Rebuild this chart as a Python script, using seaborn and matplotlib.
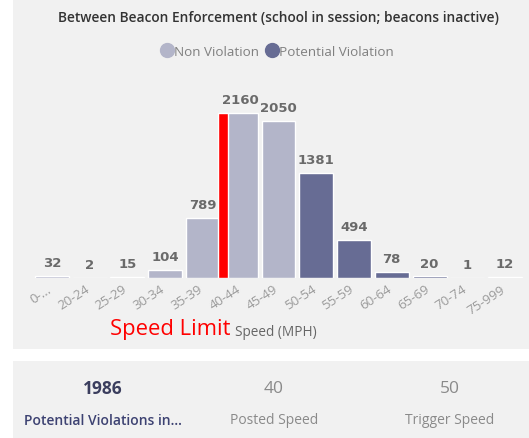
import matplotlib
matplotlib.use("Agg")
import matplotlib.pyplot as plt
from matplotlib.patches import Rectangle
from matplotlib.lines import Line2D
import matplotlib.transforms as mtrans
import seaborn as sns
import pandas as pd

categories = ["0-...", "20-24", "25-29", "30-34", "35-39", "40-44", "45-49",
              "50-54", "55-59", "60-64", "65-69", "70-74", "75-999"]
counts = [32, 2, 15, 104, 789, 2160, 2050, 1381, 494, 78, 20, 1, 12]
status = ["Non Violation"] * 7 + ["Potential Violation"] * 6
speed_limit_height = 2160
kpi_values = ["1986", "40", "50"]
kpi_labels = ["Potential Violations in...", "Posted Speed", "Trigger Speed"]

df = pd.DataFrame({"Speed": categories, "Count": counts, "Status": status})

sns.set_theme(style="white")
plt.rcParams["font.family"] = ["Open Sans", "DejaVu Sans"]

W, H = 529, 439
fig = plt.figure(figsize=(W / 100, H / 100), dpi=100)
fig.patch.set_facecolor("white")

def fx(px):
    return px / W

def fy(py):
    return 1 - py / H

# panel backgrounds
fig.patches.append(Rectangle((fx(13), fy(350)), fx(529 - 13), (350) / H,
                             transform=fig.transFigure, facecolor="#f1f1f1",
                             edgecolor="none", zorder=-10))
fig.patches.append(Rectangle((fx(13), fy(439)), fx(529 - 13), (439 - 362) / H,
                             transform=fig.transFigure, facecolor="#f1f1f1",
                             edgecolor="none", zorder=-10))

light = "#b3b5c9"
dark = "#676c94"
palette = {"Non Violation": light, "Potential Violation": dark}

ymax = 2400
ax_h = 165 * ymax / 2160
ax = fig.add_axes([fx(33), 160 / H, fx(491), ax_h / H])
ax.set_zorder(5)
ax.patch.set_alpha(0)
sns.barplot(data=df, x="Speed", y="Count", hue="Status", palette=palette,
            dodge=False, width=0.9, legend=False, ax=ax, saturation=1)
ax.set_xlim(-0.5, 12.5)
ax.set_ylim(0, ymax)

# speed limit marker
ax.bar([4.52], [speed_limit_height], width=0.27, color="#ff0000", zorder=5)

for i, v in enumerate(counts):
    ax.annotate(str(v), (i, v), xytext=(0, 5), textcoords="offset points",
                ha="center", va="bottom", fontsize=9.5, fontweight="bold",
                color="#6a6a6a", family=["Liberation Sans Narrow", "DejaVu Sans"])

ax.set_yticks([])
ax.set_xlabel("")
ax.set_ylabel("")
for s in ax.spines.values():
    s.set_visible(False)
ax.tick_params(axis="x", length=0, pad=3)
ax.set_xticks(range(len(categories)))
ax.set_xticklabels(categories, rotation=33, ha="right", rotation_mode="anchor",
                   fontsize=9.5, color="#9a9a9a")
offset = mtrans.ScaledTranslation(-5 / 100, 0, fig.dpi_scale_trans)
for lbl in ax.get_xticklabels():
    lbl.set_transform(lbl.get_transform() + offset)

# title
fig.text(fx(278), fy(18), "Between Beacon Enforcement (school in session; beacons inactive)",
         ha="center", va="center", fontsize=9.9, fontweight="semibold", color="#333333")

# legend
handles = [Line2D([], [], marker="o", linestyle="none", markersize=10,
                  markerfacecolor=light, markeredgecolor=light),
           Line2D([], [], marker="o", linestyle="none", markersize=10,
                  markerfacecolor=dark, markeredgecolor=dark)]
leg = fig.legend(handles, ["Non Violation", "Potential Violation"],
                 loc="center", bbox_to_anchor=(fx(277), fy(52)), ncol=2,
                 frameon=False, fontsize=9.7, handletextpad=0.0,
                 columnspacing=0.5, handlelength=1.0)
for t in leg.get_texts():
    t.set_color("#808080")

# axis label and speed limit text
fig.text(fx(230), fy(329), "Speed Limit", ha="right", va="center",
         fontsize=15.8, color="#ff0000")
fig.text(fx(235), fy(333), "Speed (MPH)", ha="left", va="center",
         fontsize=9.8, color="#666666")

# KPI cards
kx = [103, 274, 450]
for i, (v, l) in enumerate(zip(kpi_values, kpi_labels)):
    if i == 0:
        fig.text(fx(kx[i]), fy(389), v, ha="center", va="center", fontsize=12.5,
                 fontweight="bold", color="#3b3e5e")
        fig.text(fx(kx[i]), fy(421), l, ha="center", va="center", fontsize=10,
                 fontweight="semibold", color="#3d4272")
    else:
        fig.text(fx(kx[i]), fy(389), v, ha="center", va="center", fontsize=12.5,
                 color="#8a8a8a")
        fig.text(fx(kx[i]), fy(421), l, ha="center", va="center", fontsize=10,
                 color="#8a8a8a")

fig.savefig("out.png", dpi=100)
